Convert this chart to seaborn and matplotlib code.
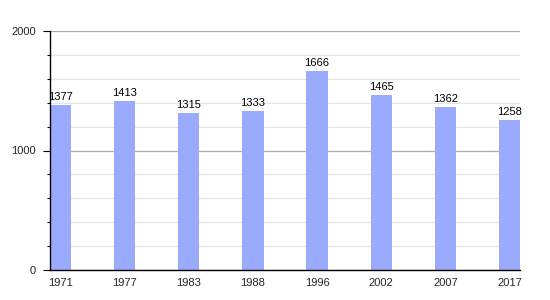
import matplotlib
matplotlib.use("Agg")
import matplotlib.pyplot as plt
import seaborn as sns
import pandas as pd
from matplotlib.ticker import MultipleLocator

years = ["1971", "1977", "1983", "1988", "1996", "2002", "2007", "2017"]
population = [1377, 1413, 1315, 1333, 1666, 1465, 1362, 1258]

sns.set_theme(style="white")
plt.rcParams['font.family'] = ['Liberation Sans', 'DejaVu Sans']

df = pd.DataFrame({"year": years, "pop": population})

fig = plt.figure(figsize=(5.5, 3.0), dpi=100)
ax = fig.add_axes([50/550, 30/300, 470/550, 239/300])

sns.barplot(data=df, x="year", y="pop", color="#99AAFF", saturation=1, width=0.33,
            linewidth=0, edgecolor="none", ax=ax, zorder=3)

ax.set_xlim(-0.165, 7.165)
ax.set_ylim(0, 2000)
ax.yaxis.set_major_locator(MultipleLocator(1000))
ax.yaxis.set_minor_locator(MultipleLocator(200))
ax.grid(True, which="major", axis="y", color="#aaaaaa", linewidth=0.9, zorder=0)
ax.grid(True, which="minor", axis="y", color="#e4e4e4", linewidth=0.8, zorder=0)
ax.set_axisbelow(True)

for s in ["top", "right"]:
    ax.spines[s].set_visible(False)
for s in ["left", "bottom"]:
    ax.spines[s].set_color("black")
    ax.spines[s].set_linewidth(1.0)
    ax.spines[s].set_zorder(5)

ax.tick_params(axis="y", which="major", left=True, length=5, width=0.8, color="black", labelsize=8, pad=5)
ax.tick_params(axis="y", which="minor", left=True, length=2.5, width=0.8, color="black")
ax.tick_params(axis="x", bottom=False, labelsize=8, pad=0)
ax.set_xlabel("")
ax.set_ylabel("")

for i, v in enumerate(population):
    ax.text(i, v + 25, str(v), ha="center", va="bottom", fontsize=8, color="black", zorder=6)

fig.savefig("out.png", dpi=100)
